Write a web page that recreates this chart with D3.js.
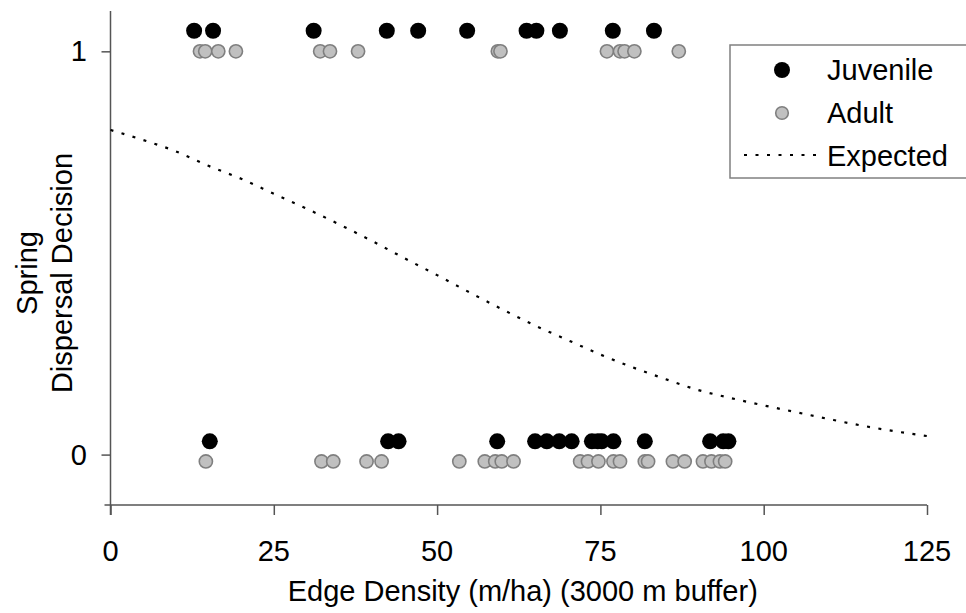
<!DOCTYPE html>
<html>
<head>
<meta charset="utf-8">
<script src="https://cdn.jsdelivr.net/npm/d3@7"></script>
<style>
  html, body { margin: 0; padding: 0; background: #fff; }
  svg { display: block; }
  text { font-family: Arial, "Liberation Sans", sans-serif; fill: #000; }
</style>
</head>
<body>
<svg id="chart" width="966" height="613"></svg>
<script>
// ---- data ----
const juvenileDispersed = [12.8, 15.7, 31.1, 42.3, 47.1, 54.6, 63.7, 65.2, 68.8, 76.9, 83.2];
const juvenileStayed = [15.2, 42.5, 44.1, 59.2, 65.0, 66.8, 68.7, 70.6, 73.7, 74.6, 75.2, 77.0, 81.8, 91.8, 93.8, 94.6];
const adultDispersed = [13.7, 14.5, 16.5, 19.2, 32.1, 33.6, 37.9, 59.3, 59.7, 76.0, 78.0, 78.7, 80.2, 87.0];
const adultStayed = [14.6, 32.3, 34.1, 39.2, 41.5, 53.4, 57.3, 58.9, 59.9, 61.7, 71.9, 73.1, 74.7, 77.0, 78.0, 81.8, 82.3, 86.1, 87.9, 90.7, 92.0, 93.3, 94.1];
// plotted (offset) y positions of each group
const juvenileY = { dispersed: 1.051, stayed: 0.033 };
const adultY = { dispersed: 1.0, stayed: -0.017 };
const expectedX = [0, 5, 10, 15, 20, 25, 30, 35, 40, 45, 50, 55, 60, 65, 70, 75, 80, 85, 90, 95, 100, 105, 110, 115, 120, 125];
const expectedY = [0.805, 0.78, 0.752, 0.716, 0.684, 0.647, 0.610, 0.571, 0.53, 0.487, 0.445, 0.402, 0.36, 0.32, 0.284, 0.248, 0.216, 0.187, 0.16, 0.14, 0.122, 0.105, 0.088, 0.072, 0.058, 0.046];
const xTicks = [0, 25, 50, 75, 100, 125];
const yTicks = [0, 1];
const legendLabels = ["Juvenile", "Adult", "Expected"];
const xTitle = "Edge Density (m/ha) (3000 m buffer)";
const yTitle = ["Spring", "Dispersal Decision"];

// ---- layout ----
const svg = d3.select("#chart");
const x = d3.scaleLinear().domain([0, 125]).range([110.5, 927]);
const y = d3.scaleLinear().domain([-0.125, 1.1]).range([505, 11]);
const axisColor = "#555";
const FS = 29;

// axes
const xAxis = svg.append("g").attr("transform", `translate(0,${y(-0.125)})`)
  .call(d3.axisBottom(x).tickValues(xTicks).tickSize(10).tickPadding(0).tickFormat(""));
xAxis.select(".domain").remove();
xAxis.selectAll(".tick line").attr("stroke", axisColor).attr("stroke-width", 1.5);
svg.append("line").attr("x1", x(0) - 6).attr("x2", x(125)).attr("y1", y(-0.125)).attr("y2", y(-0.125))
  .attr("stroke", axisColor).attr("stroke-width", 1.5);

const yAxis = svg.append("g").attr("transform", `translate(${x(0)},0)`)
  .call(d3.axisLeft(y).tickValues(yTicks).tickSize(9).tickPadding(0).tickFormat(""));
yAxis.select(".domain").remove();
yAxis.selectAll(".tick line").attr("stroke", axisColor).attr("stroke-width", 1.5);
svg.append("line").attr("x1", x(0)).attr("x2", x(0)).attr("y1", y(1.1)).attr("y2", y(-0.125) + 10)
  .attr("stroke", axisColor).attr("stroke-width", 1.5);

// tick labels
svg.append("g").selectAll("text").data(xTicks).join("text")
  .attr("x", d => x(d)).attr("y", 561).attr("text-anchor", "middle")
  .attr("font-size", FS).text(d => d);
svg.append("g").selectAll("text").data(yTicks).join("text")
  .attr("x", 87).attr("y", d => y(d) + 10).attr("text-anchor", "end")
  .attr("font-size", FS).text(d => d);

// axis titles
svg.append("text").attr("x", (x(0) + x(125)) / 2 + 4).attr("y", 601).attr("text-anchor", "middle")
  .attr("font-size", FS).text(xTitle);
const yt = svg.append("text").attr("transform", "translate(0,273) rotate(-90)")
  .attr("text-anchor", "middle").attr("font-size", FS);
yt.append("tspan").attr("x", 0).attr("y", 37).text(yTitle[0]);
yt.append("tspan").attr("x", 0).attr("y", 72).text(yTitle[1]);

// expected curve
const expected = expectedX.map((d, i) => [d, expectedY[i]]);
svg.append("path").datum(expected)
  .attr("d", d3.line().x(d => x(d[0])).y(d => y(d[1])).curve(d3.curveMonotoneX))
  .attr("fill", "none").attr("stroke", "#000").attr("stroke-width", 2.2)
  .attr("stroke-dasharray", "3,8.5");

// points
function adults(vals, yv) {
  svg.append("g").selectAll("circle").data(vals).join("circle")
    .attr("cx", d => x(d)).attr("cy", y(yv)).attr("r", 6.6)
    .attr("fill", "#c0c0c0").attr("stroke", "#7f7f7f").attr("stroke-width", 1.6);
}
function juveniles(vals, yv) {
  svg.append("g").selectAll("circle").data(vals).join("circle")
    .attr("cx", d => x(d)).attr("cy", y(yv)).attr("r", 8)
    .attr("fill", "#000");
}
adults(adultDispersed, adultY.dispersed);
adults(adultStayed, adultY.stayed);
juveniles(juvenileDispersed, juvenileY.dispersed);
juveniles(juvenileStayed, juvenileY.stayed);

// legend
const lg = svg.append("g");
lg.append("rect").attr("x", 730).attr("y", 45).attr("width", 250).attr("height", 133)
  .attr("fill", "#fff").attr("stroke", "#808080").attr("stroke-width", 1.5);
lg.append("circle").attr("cx", 782).attr("cy", 70).attr("r", 8).attr("fill", "#000");
lg.append("circle").attr("cx", 782).attr("cy", 113).attr("r", 6.3)
  .attr("fill", "#c0c0c0").attr("stroke", "#7f7f7f").attr("stroke-width", 1.6);
lg.append("line").attr("x1", 744).attr("x2", 822).attr("y1", 155).attr("y2", 155)
  .attr("stroke", "#000").attr("stroke-width", 2.2).attr("stroke-dasharray", "3,8.5");
lg.selectAll("text").data(legendLabels).join("text")
  .attr("x", 827).attr("y", (d, i) => 80 + i * 43).attr("font-size", FS).text(d => d);
</script>
</body>
</html>
